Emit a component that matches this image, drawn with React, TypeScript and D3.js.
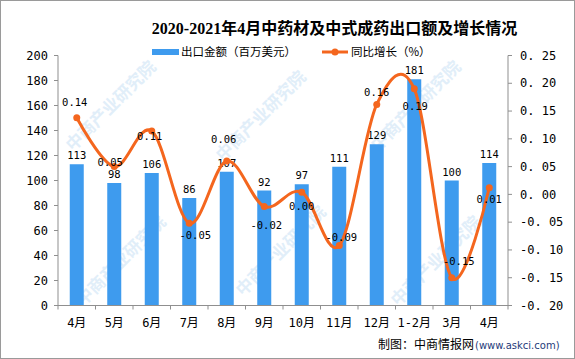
import React from "react";
import * as d3 from "d3";

const categories = ["4月", "5月", "6月", "7月", "8月", "9月", "10月", "11月", "12月", "1-2月", "3月", "4月"];
const exportValues = [113, 98, 106, 86, 107, 92, 97, 111, 129, 181, 100, 114];
const growthValues = [0.138, 0.05, 0.114, -0.052, 0.06, -0.022, 0.004, -0.092, 0.162, 0.19, -0.15, 0.012];
const leftTicks = [0, 20, 40, 60, 80, 100, 120, 140, 160, 180, 200];
const rightTicks = [-0.2, -0.15, -0.1, -0.05, 0, 0.05, 0.1, 0.15, 0.2, 0.25];
const growthLabelOffsets: [number, number][] = [
  [-2, -15], [-4, -4], [-2, 5], [6, 12], [-3, -22], [2, 19],
  [0, 14], [2, -8], [0, -12], [1, 17], [7, -16], [0, 12],
];

const W = 575;
const H = 359;
const M = { left: 58, right: 508, top: 55.5, bottom: 305.5 };
const BAR = "#3E9BEE";
const LINE = "#F4661E";
const AXIS = "#8f8f8f";
const MONO = "'DejaVu Sans Mono', 'Noto Sans CJK SC', monospace";
const CJK = "'Noto Sans CJK SC', sans-serif";

export default function App() {
  const idx = categories.map((_, i) => i);
  const x = d3.scaleBand<number>().domain(idx).range([M.left, M.right]).paddingInner(0).paddingOuter(0);
  const step = x.step();
  const barW = 14;
  const cx = (i: number) => (x(i) as number) + step / 2;
  const yL = d3.scaleLinear().domain([0, 200]).range([M.bottom, M.top]);
  const yR = d3.scaleLinear().domain([-0.2, 0.25]).range([M.bottom, M.top]);

  const linePath = d3
    .line<number>()
    .x((_, i) => cx(i))
    .y((d) => yR(d))
    .curve(d3.curveCatmullRom.alpha(0))(growthValues) as string;

  const fmtR = (v: number) => {
    const s = Math.abs(v).toFixed(2).replace(".", ". ");
    return (v < -1e-9 ? "-" : "") + s;
  };

  const watermarks: [number, number][] = [
    [115, 110], [265, 120], [420, 110], [125, 265], [285, 255], [440, 265],
  ];

  return (
    <div style={{ position: "fixed", left: 0, top: 0 }}>
      <svg width={W} height={H} viewBox={`0 0 ${W} ${H}`} style={{ display: "block", background: "#fff" }}>
        <rect x={0} y={0} width={W} height={H} fill="#fff" />
        {/* watermark */}
        {watermarks.map(([wx, wy], i) => (
          <text
            key={"wm" + i}
            x={wx}
            y={wy}
            transform={`rotate(-45 ${wx} ${wy})`}
            fontFamily={CJK}
            fontSize={17}
            fontWeight={700}
            fill="#e1eef9"
            textAnchor="middle"
          >
            中商产业研究院
          </text>
        ))}

        {/* title */}
        <text x={334.5} y={34} textAnchor="middle" fontFamily={"'Liberation Serif', 'Noto Sans CJK SC', serif"} fontWeight={700} fontSize={16} fill="#000">
          2020-2021年4月中药材及中式成药出口额及增长情况
        </text>

        {/* legend */}
        <rect x={152} y={49} width={27} height={6} fill={BAR} />
        <text x={181} y={56} fontFamily={CJK} fontSize={11.5} fill="#000">出口金额（百万美元）</text>
        <line x1={322} x2={348} y1={52} y2={52} stroke={LINE} strokeWidth={3} />
        <circle cx={335} cy={52} r={3.5} fill={LINE} />
        <text x={351} y={56} fontFamily={CJK} fontSize={11.5} fill="#000">同比增长（%）</text>

        {/* bars */}
        {exportValues.map((v, i) => (
          <rect key={"b" + i} x={cx(i) - barW / 2} y={yL(v)} width={barW} height={M.bottom - yL(v)} fill={BAR} />
        ))}

        {/* axes */}
        <line x1={M.left} x2={M.left} y1={M.top} y2={M.bottom} stroke={AXIS} />
        {leftTicks.map((t) => (
          <g key={"lt" + t}>
            <line x1={M.left - 4} x2={M.left} y1={yL(t)} y2={yL(t)} stroke={AXIS} />
            <text x={M.left - 10} y={yL(t)} dy="0.35em" textAnchor="end" fontFamily={MONO} fontSize={12} fill="#000">
              {t}
            </text>
          </g>
        ))}
        <line x1={M.right} x2={M.right} y1={M.top} y2={M.bottom} stroke={AXIS} />
        {rightTicks.map((t) => (
          <g key={"rt" + t}>
            <line x1={M.right} x2={M.right + 4} y1={yR(t)} y2={yR(t)} stroke={AXIS} />
            <text x={M.right + 12} y={yR(t)} dy="0.35em" textAnchor="start" fontFamily={MONO} fontSize={12} fill="#000">
              {fmtR(t)}
            </text>
          </g>
        ))}
        <line x1={M.left} x2={M.right} y1={M.bottom} y2={M.bottom} stroke={AXIS} />
        {d3.range(categories.length + 1).map((i) => {
          const bx = M.left + i * step;
          return <line key={"xt" + i} x1={bx} x2={bx} y1={M.bottom} y2={M.bottom + 4} stroke={AXIS} />;
        })}
        {categories.map((c, i) => (
          <text key={"xl" + i} x={cx(i)} y={323} dy="0.35em" textAnchor="middle" fontFamily={MONO} fontSize={12} fill="#000">
            {c}
          </text>
        ))}

        {/* bar labels */}
        {exportValues.map((v, i) => (
          <text key={"bl" + i} x={cx(i)} y={yL(v) - 5} textAnchor="middle" fontFamily={MONO} fontSize={10.5} fill="#000">
            {v}
          </text>
        ))}

        {/* line */}
        <path d={linePath} fill="none" stroke={LINE} strokeWidth={3} />
        {growthValues.map((v, i) => (
          <circle key={"p" + i} cx={cx(i)} cy={yR(v)} r={3.5} fill={LINE} />
        ))}
        {growthValues.map((v, i) => (
          <text
            key={"gl" + i}
            x={cx(i) + growthLabelOffsets[i][0]}
            y={yR(v) + growthLabelOffsets[i][1]}
            dy="0.35em"
            textAnchor="middle"
            fontFamily={MONO}
            fontSize={10.5}
            fill="#000"
          >
            {(v < -0.005 ? "-" : "") + Math.abs(v).toFixed(2)}
          </text>
        ))}

        {/* source */}
        <text x={378} y={349} fontFamily={CJK} fontSize={12} fill="#000">制图：中商情报网</text>
        <text x={475} y={349} fontFamily={"'DejaVu Sans', sans-serif"} fontSize={10} fill="#1f3b7a">(www.askci.com)</text>

        {/* frame */}
        <rect x={0.5} y={0.5} width={W - 1} height={H - 1} fill="none" stroke="#9a9a9a" />
      </svg>
    </div>
  );
}
